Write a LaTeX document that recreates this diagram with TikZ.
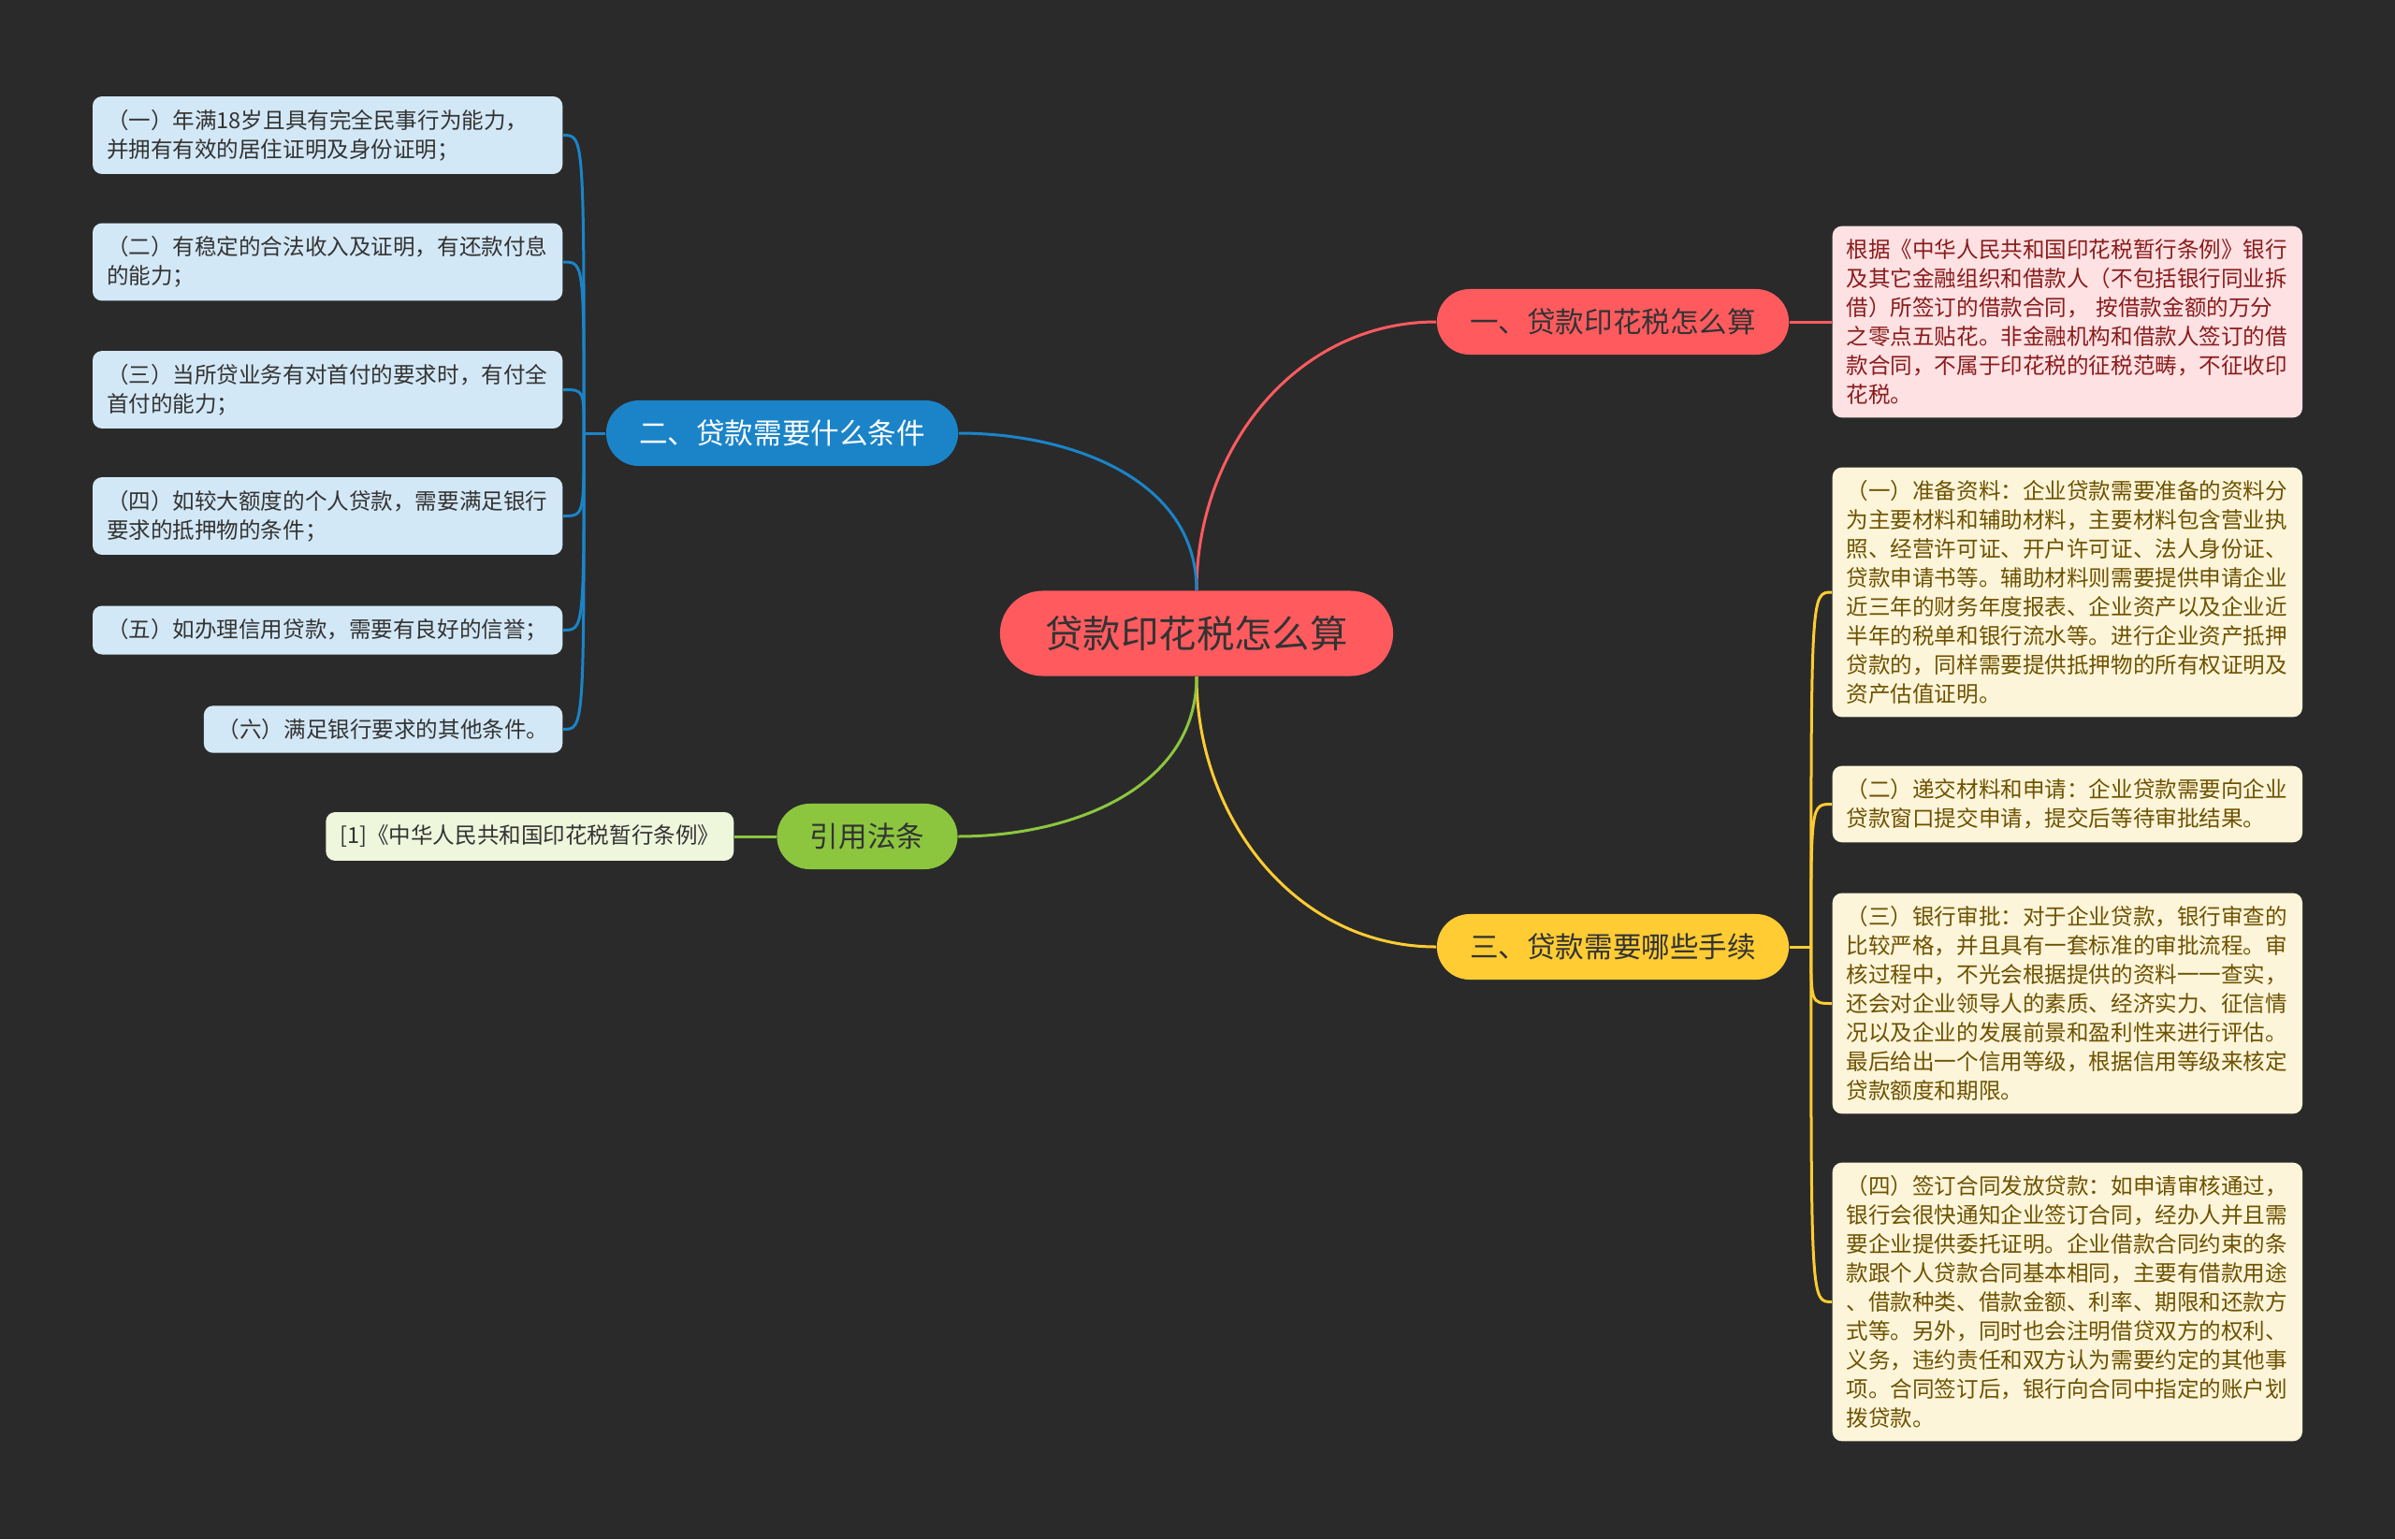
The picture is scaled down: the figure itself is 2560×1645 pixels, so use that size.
\documentclass[tikz,border=0pt]{standalone}
\usepackage{fontspec}
\setmainfont{Noto Sans CJK SC}
\usepackage{tikz}
\definecolor{bg}{HTML}{2A2A2A}
\definecolor{rootred}{HTML}{FF5B5F}
\definecolor{topblue}{HTML}{1B84C8}
\definecolor{topyellow}{HTML}{FFCC33}
\definecolor{topgreen}{HTML}{8CC63F}
\definecolor{leafblue}{HTML}{D3E8F6}
\definecolor{leafred}{HTML}{FDE1E3}
\definecolor{leafyellow}{HTML}{FDF5DA}
\definecolor{leafgreen}{HTML}{EEF6DC}
\definecolor{txtred}{HTML}{8A1C1C}
\definecolor{txtyellow}{HTML}{6E5200}
\definecolor{txtdark}{HTML}{333333}

\begin{document}
\begin{tikzpicture}[x=0.01cm,y=-0.01cm,
  topic/.style={rectangle,rounded corners=0.35cm,minimum width=3.76cm,minimum height=0.7cm,inner sep=0pt,font=\fontsize{8.7pt}{10pt}\selectfont,text=txtdark},
  leaf/.style={rectangle,rounded corners=0.1cm,align=left,inner xsep=0.15cm,inner ysep=0.14cm,font=\fontsize{6.7pt}{8.8pt}\selectfont,text=txtdark},
  wideleaf/.style={leaf,text width=4.72cm},
  branchline/.style={line width=0.03cm}]
\path[use as bounding box,fill=bg] (0,0) rectangle (2560,1645);

\node[topic,fill=rootred,minimum width=4.2cm,minimum height=0.91cm,rounded corners=0.455cm,font=\fontsize{11.5pt}{13pt}\selectfont] (T) at (1279,677) {贷款印花税怎么算};
\node[topic,fill=rootred] (S1) at (1724,344) {一、贷款印花税怎么算};
\node[topic,fill=topblue,text=white] (S2) at (836,463) {二、贷款需要什么条件};
\node[topic,fill=topyellow] (S3) at (1724,1012) {三、贷款需要哪些手续};
\node[topic,fill=topgreen,minimum width=1.93cm] (S4) at (927,894) {引用法条};

\node[wideleaf,fill=leafred,text=txtred,anchor=west] (R1) at (1958,344) {根据《中华人民共和国印花税暂行条例》银行\\及其它金融组织和借款人（不包括银行同业拆\\借）所签订的借款合同， 按借款金额的万分\\之零点五贴花。非金融机构和借款人签订的借\\款合同，不属于印花税的征税范畴，不征收印\\花税。};

\node[wideleaf,fill=leafblue,anchor=east] (A1) at (602,144.5) {（一）年满18岁且具有完全民事行为能力，\\并拥有有效的居住证明及身份证明；};
\node[wideleaf,fill=leafblue,anchor=east] (A2) at (602,280) {（二）有稳定的合法收入及证明，有还款付息\\的能力；};
\node[wideleaf,fill=leafblue,anchor=east] (A3) at (602,416.5) {（三）当所贷业务有对首付的要求时，有付全\\首付的能力；};
\node[wideleaf,fill=leafblue,anchor=east] (A4) at (602,551.5) {（四）如较大额度的个人贷款，需要满足银行\\要求的抵押物的条件；};
\node[wideleaf,fill=leafblue,anchor=east] (A5) at (602,673.5) {（五）如办理信用贷款，需要有良好的信誉；};
\node[leaf,fill=leafblue,anchor=east] (A6) at (602,779.5) {（六）满足银行要求的其他条件。};

\node[wideleaf,fill=leafyellow,text=txtyellow,anchor=west] (C1) at (1958,633) {（一）准备资料：企业贷款需要准备的资料分\\为主要材料和辅助材料，主要材料包含营业执\\照、经营许可证、开户许可证、法人身份证、\\贷款申请书等。辅助材料则需要提供申请企业\\近三年的财务年度报表、企业资产以及企业近\\半年的税单和银行流水等。进行企业资产抵押\\贷款的，同样需要提供抵押物的所有权证明及\\资产估值证明。};
\node[wideleaf,fill=leafyellow,text=txtyellow,anchor=west] (C2) at (1958,859.5) {（二）递交材料和申请：企业贷款需要向企业\\贷款窗口提交申请，提交后等待审批结果。};
\node[wideleaf,fill=leafyellow,text=txtyellow,anchor=west] (C3) at (1958,1072.5) {（三）银行审批：对于企业贷款，银行审查的\\比较严格，并且具有一套标准的审批流程。审\\核过程中，不光会根据提供的资料一一查实，\\还会对企业领导人的素质、经济实力、征信情\\况以及企业的发展前景和盈利性来进行评估。\\最后给出一个信用等级，根据信用等级来核定\\贷款额度和期限。};
\node[wideleaf,fill=leafyellow,text=txtyellow,anchor=west] (C4) at (1958,1391.5) {（四）签订合同发放贷款：如申请审核通过，\\银行会很快通知企业签订合同，经办人并且需\\要企业提供委托证明。企业借款合同约束的条\\款跟个人贷款合同基本相同，主要有借款用途\\、借款种类、借款金额、利率、期限和还款方\\式等。另外，同时也会注明借贷双方的权利、\\义务，违约责任和双方认为需要约定的其他事\\项。合同签订后，银行向合同中指定的账户划\\拨贷款。};

\node[leaf,fill=leafgreen,anchor=east] (G1) at (785,894) {[1]《中华人民共和国印花税暂行条例》};

\draw[branchline,rootred] (T.north) to[out=90,in=180] (S1.west);
\draw[branchline,topblue] (T.north) to[out=90,in=0] (S2.east);
\draw[branchline,topyellow] (T.south) to[out=-90,in=180] (S3.west);
\draw[branchline,topgreen] (T.south) to[out=-90,in=0] (S4.east);

\draw[branchline,rootred] (S1.east) -- (R1.west);
\draw[branchline,topgreen] (S4.west) -- (G1.east);
\draw[branchline,topblue] (S2.west) -- ++(-23,0) coordinate (J2);
\foreach \n in {1,...,6}
  \draw[branchline,topblue] (J2) .. controls (J2 |- A\n.east) .. (A\n.east);
\draw[branchline,topyellow] (S3.east) -- ++(23,0) coordinate (J3);
\foreach \n in {1,...,4}
  \draw[branchline,topyellow] (J3) .. controls (J3 |- C\n.west) .. (C\n.west);
\end{tikzpicture}
\end{document}
